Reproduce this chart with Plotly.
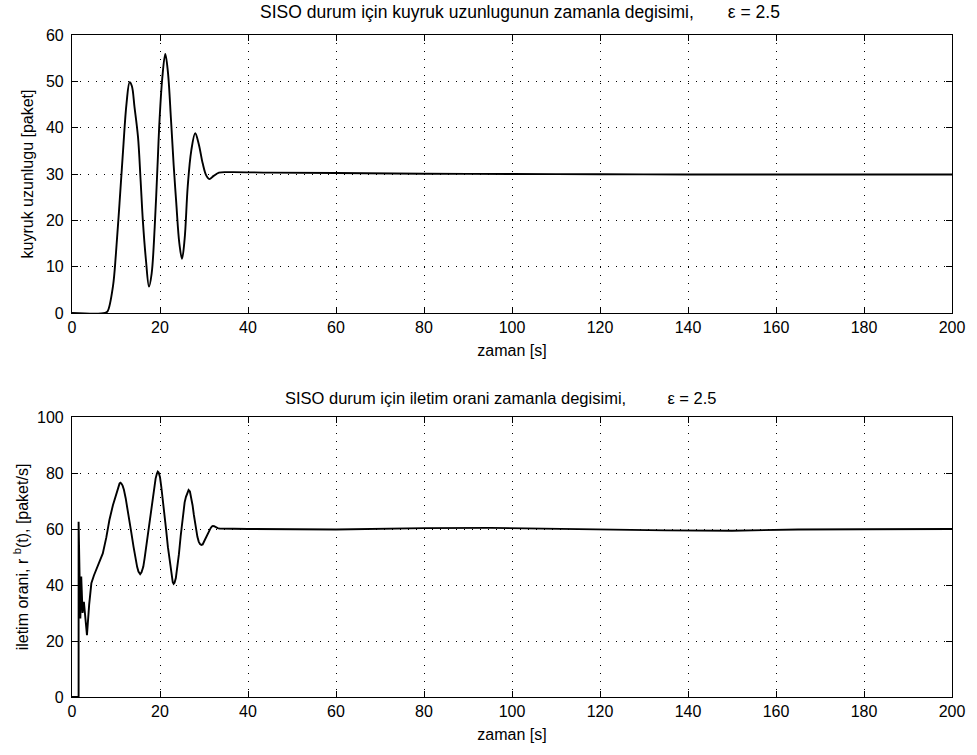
import plotly.graph_objects as go
from plotly.subplots import make_subplots

# Queue length over time (top panel)
t_queue = [0, 7.5, 8.1, 9.3, 10.0, 10.8, 11.6, 12.4, 13.1, 13.6, 14.2, 15.0, 15.6, 16.1, 16.8, 17.5, 18.1, 18.8, 19.4, 19.9, 20.5, 21.2, 21.8, 22.5, 23.1, 23.7, 24.4, 25.0, 25.6, 26.3, 27.1, 28.0, 28.8, 29.7, 30.5, 31.2, 32.2, 33.4, 36.0, 45.0, 60.0, 80.0, 100.0, 120.0, 140.0, 160.0, 180.0, 200.0]
q_queue = [0, 0, 0.4, 5.7, 13.0, 23.7, 35.0, 45.3, 49.8, 49.0, 44.5, 38.0, 28.5, 20.0, 11.5, 5.7, 8.5, 18.6, 31.0, 41.7, 50.5, 55.9, 52.0, 41.7, 32.0, 23.7, 15.0, 11.7, 16.0, 27.3, 35.0, 38.8, 36.5, 32.3, 29.7, 28.9, 29.6, 30.3, 30.4, 30.3, 30.2, 30.05, 30.0, 29.95, 29.9, 29.9, 29.9, 29.9]

# Transmission rate over time (bottom panel)
t_rate = [0, 1.5, 1.5, 1.7, 1.9, 2.1, 2.4, 2.7, 3.0, 3.4, 3.9, 4.4, 5.0, 5.5, 6.2, 7.0, 7.8, 8.5, 9.3, 10.0, 10.3, 10.6, 10.8, 11.0, 11.2, 11.5, 11.8, 12.2, 12.6, 13.1, 13.5, 14.0, 14.4, 14.8, 15.1, 15.5, 15.8, 16.2, 16.5, 16.9, 17.2, 17.6, 18.0, 18.4, 18.7, 19.0, 19.3, 19.5, 19.7, 20.0, 20.3, 20.7, 21.0, 21.4, 21.8, 22.2, 22.5, 22.7, 22.9, 23.1, 23.3, 23.6, 23.9, 24.3, 24.7, 25.2, 25.6, 25.9, 26.2, 26.5, 26.8, 27.1, 27.4, 27.7, 28.0, 28.2, 28.5, 28.8, 29.1, 29.4, 29.7, 30.1, 30.5, 30.9, 31.2, 31.5, 31.8, 32.0, 32.3, 32.7, 33.1, 33.5, 40, 60, 80, 95, 110, 125, 135, 150, 165, 180, 200]
r_rate = [0, 0, 62.6, 43, 28, 43, 30, 34, 28, 22.1, 33, 40.6, 43.5, 45.4, 48, 51.3, 57, 63.2, 68.5, 72.5, 74.2, 75.5, 76.2, 76.5, 76.3, 75.5, 74.0, 71, 67.5, 63.2, 58.5, 53.5, 49.5, 46.5, 44.8, 43.9, 44.5, 46.5, 49.5, 54, 58.5, 63.2, 68.0, 72.5, 75.8, 78, 79.8, 80.5, 80.2, 78.5, 75.0, 70, 65.0, 59.6, 53.5, 48.5, 45.0, 42.5, 41.0, 40.4, 40.8, 42.5, 45.5, 51, 57.5, 65.6, 69.5, 71.5, 73.2, 73.9, 73.4, 71.5, 68.5, 65, 61.5, 59.6, 57.2, 55.5, 54.6, 54.3, 54.5, 55.8, 57.2, 58.5, 59.6, 60.3, 60.9, 61.1, 61.0, 60.5, 60.3, 60.2, 60, 59.8, 60.3, 60.4, 60, 59.7, 59.5, 59.4, 59.8, 59.9, 60]

x_ticks = [0, 20, 40, 60, 80, 100, 120, 140, 160, 180, 200]
q_ticks = [0, 10, 20, 30, 40, 50, 60]
r_ticks = [0, 20, 40, 60, 80, 100]

FONT = "Liberation Sans, Arial, sans-serif"
W, H = 977, 755
L, R, T, B = 72, 20, 35, 58
plot_h = H - T - B

def ypaper(py):
    return (H - B - py) / plot_h

def xpaper(px):
    return (px - L) / (W - L - R)

fig = make_subplots(rows=2, cols=1, vertical_spacing=0.1)

line_style = dict(color="black", width=1.9)
fig.add_trace(go.Scatter(x=t_queue, y=q_queue, mode="lines", line=line_style,
                         line_shape="spline", showlegend=False), row=1, col=1)
fig.add_trace(go.Scatter(x=t_rate, y=r_rate, mode="lines", line=line_style,
                         line_shape="linear", showlegend=False), row=2, col=1)

axis_common = dict(
    showline=True, linecolor="black", linewidth=1.2, mirror="ticks",
    ticks="inside", ticklen=6, tickwidth=1, tickcolor="black",
    showgrid=True, gridcolor="black", gridwidth=1, griddash="1px,7px",
    zeroline=False, tickfont=dict(family=FONT, size=16, color="black"),
)
label_font = dict(family=FONT, size=16, color="black")

fig.update_xaxes(axis_common, range=[0, 200], tickvals=x_ticks,
                 title=dict(text="zaman [s]", font=label_font, standoff=9))
fig.update_xaxes(domain=[0, 1], row=1, col=1)
fig.update_xaxes(domain=[0, 1], row=2, col=1)

fig.update_yaxes(axis_common, ticklabelstandoff=4)
fig.update_yaxes(range=[0, 60], tickvals=q_ticks, domain=[ypaper(313), 1],
                 title=dict(text="kuyruk uzunlugu [paket]", font=label_font, standoff=8),
                 row=1, col=1)
fig.update_yaxes(range=[0, 100], tickvals=r_ticks, domain=[0, ypaper(417)],
                 title=dict(text="iletim orani, r <sup>b</sup>(t), [paket/s]", font=label_font, standoff=4),
                 row=2, col=1)

fig.add_annotation(text="SISO durum için kuyruk uzunlugunun zamanla degisimi," + "\u00a0" * 7 + "ε = 2.5",
                   xref="paper", yref="paper", x=xpaper(523), y=ypaper(12),
                   xanchor="center", yanchor="middle", showarrow=False,
                   font=dict(family=FONT, size=17.5, color="black"))
fig.add_annotation(text="SISO durum için iletim orani zamanla degisimi," + "\u00a0" * 9 + "ε = 2.5",
                   xref="paper", yref="paper", x=xpaper(503), y=ypaper(398),
                   xanchor="center", yanchor="middle", showarrow=False,
                   font=dict(family=FONT, size=16.5, color="black"))

fig.update_layout(
    width=W, height=H,
    margin=dict(l=L, r=R, t=T, b=B),
    paper_bgcolor="white", plot_bgcolor="white",
    font=dict(family=FONT, size=16, color="black"),
)

fig.write_html("out.html")
